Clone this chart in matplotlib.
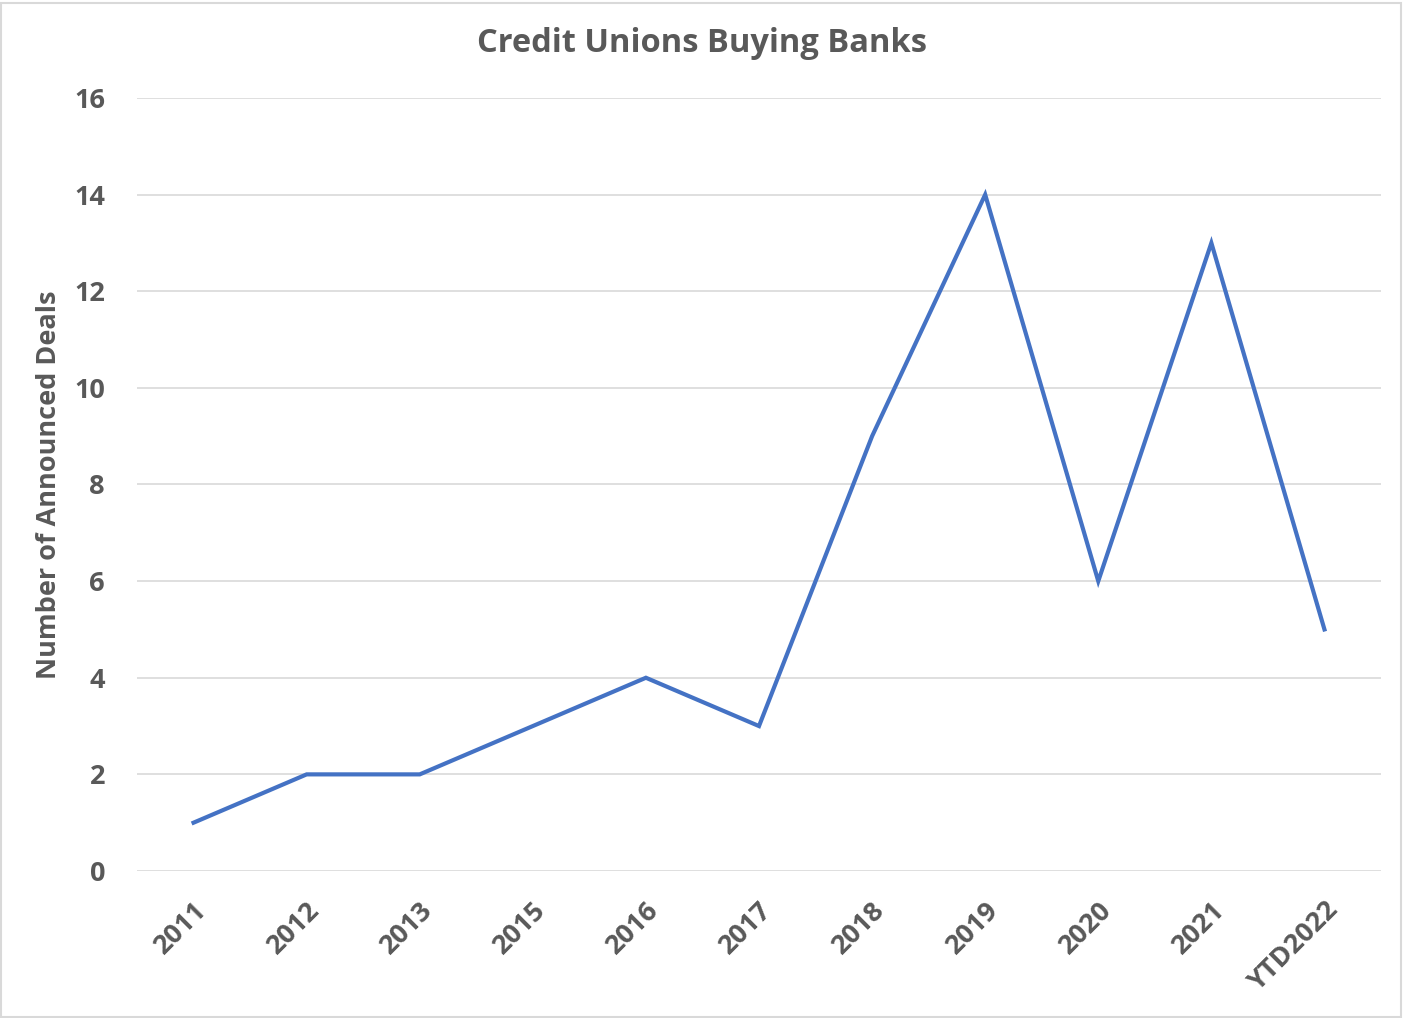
import matplotlib.pyplot as plt
from matplotlib.patches import Rectangle

# Data
years = ['2011', '2012', '2013', '2015', '2016', '2017', '2018', '2019', '2020', '2021', 'YTD2022']
deals = [1, 2, 2, 3, 4, 3, 9, 14, 6, 13, 5]

txt = '#595959'
plt.rcParams['font.family'] = ['Open Sans', 'DejaVu Sans']

fig = plt.figure(figsize=(14.04, 10.18), dpi=100)
ax = fig.add_axes([137 / 1404, 1 - 871 / 1018, (1381 - 137) / 1404, (871 - 98) / 1018])

x = range(len(years))
ax.plot(x, deals, color='#4472C4', linewidth=3, solid_joinstyle='miter')

ax.set_xlim(-0.5, len(years) - 0.5)
ax.set_ylim(0, 16)
ax.set_yticks(range(0, 17, 2))
ax.set_xticks(list(x))
ax.set_xticklabels(years, rotation=45, ha='right', va='top', rotation_mode='anchor')

ax.grid(axis='y', color='#d9d9d9', linewidth=1.2)
ax.set_axisbelow(True)
for s in ax.spines.values():
    s.set_visible(False)
ax.tick_params(axis='both', length=0, labelsize=19.5, labelcolor=txt)
ax.tick_params(axis='y', pad=23)
ax.tick_params(axis='x', pad=19)
for lab in ax.get_xticklabels() + ax.get_yticklabels():
    lab.set_fontweight('bold')

ax.set_ylabel('Number of Announced Deals', fontsize=19.5, fontweight='bold', color=txt, labelpad=9)
fig.text(0.5, 1 - 43 / 1018, 'Credit Unions Buying Banks', ha='center', va='center',
         fontsize=23.5, fontweight='bold', color=txt)

# chart border
fig.patches.append(Rectangle((0.001, 0.001), 0.997, 0.996, transform=fig.transFigure,
                             fill=False, edgecolor='#d9d9d9', linewidth=1.5))

fig.savefig('out.png', dpi=100)
